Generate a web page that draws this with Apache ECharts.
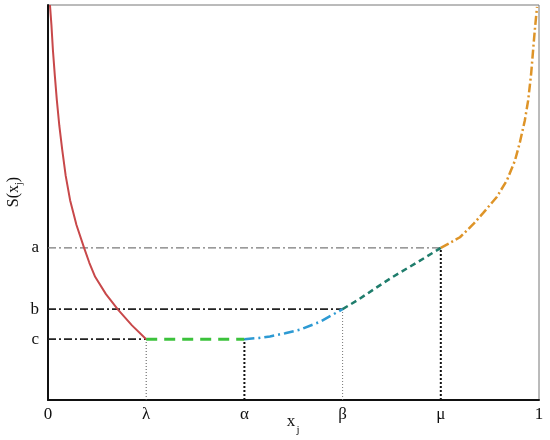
<!DOCTYPE html>
<html>
<head>
<meta charset="utf-8">
<script src="https://cdn.jsdelivr.net/npm/echarts@6/dist/echarts.min.js"></script>
<style>html,body{margin:0;padding:0;background:#fff}#c{width:550px;height:440px}</style>
</head>
<body>
<div id="c"></div>
<script>
// x tick positions and labels
const xTicks = [0, 0.2, 0.4, 0.6, 0.8, 1];
const xTickLabels = ['0', 'λ', 'α', 'β', 'μ', '1'];
// key levels on y
const levelA = 0.385, levelB = 0.23, levelC = 0.154;
const yTicks = [levelC, levelB, levelA];
const yTickLabels = ['c', 'b', 'a'];
// curve segments
const redCurve = [[0.004,1.0],[0.007,0.949],[0.010,0.886],[0.014,0.82],[0.018,0.759],[0.023,0.695],[0.029,0.633],[0.036,0.568],[0.045,0.506],[0.058,0.443],[0.073,0.387],[0.084,0.348],[0.096,0.312],[0.118,0.268],[0.143,0.228],[0.171,0.189],[0.2,0.154]];
const greenFlat = [[0.2,0.154],[0.4,0.154]];
const blueCurve = [[0.4,0.154],[0.43,0.157],[0.452,0.161],[0.483,0.169],[0.513,0.178],[0.554,0.198],[0.6,0.230]];
const tealCurve = [[0.6,0.230],[0.632,0.254],[0.662,0.279],[0.7,0.31],[0.75,0.347],[0.8,0.385]];
const orangeCurve = [[0.8,0.385],[0.839,0.412],[0.866,0.445],[0.886,0.473],[0.914,0.514],[0.935,0.557],[0.951,0.606],[0.961,0.652],[0.971,0.707],[0.978,0.759],[0.984,0.826],[0.988,0.886],[0.992,0.944],[0.996,0.995]];

const chart = echarts.init(document.getElementById('c'));
const font = 'Liberation Serif';
function seg(data, color, width, type) {
  return { type: 'line', data: data, symbol: 'none', smooth: false, z: 3,
    lineStyle: { color: color, width: width, type: type, join: 'round' }, silent: true };
}
function ref(data, color, width, type) {
  return { type: 'line', data: data, symbol: 'none', z: 2,
    lineStyle: { color: color, width: width, type: type }, silent: true };
}
chart.setOption({
  animation: false,
  grid: { left: 48, right: 11, top: 5, bottom: 40, containLabel: false, outerBoundsMode: 'none', show: true, borderColor: '#777', borderWidth: 1 },
  xAxis: {
    type: 'value', min: 0, max: 1, interval: 0.2,
    axisLine: { lineStyle: { color: '#111', width: 2 } },
    axisTick: { show: false }, splitLine: { show: false },
    axisLabel: { fontFamily: font, fontSize: 17, color: '#111', margin: 6,
      formatter: v => { const i = xTicks.findIndex(t => Math.abs(t - v) < 1e-6); return i >= 0 ? xTickLabels[i] : ''; } }
  },
  yAxis: {
    type: 'value', min: 0, max: 1,
    axisLine: { show: true, lineStyle: { color: '#111', width: 2 } },
    axisTick: { show: false }, splitLine: { show: false },
    axisLabel: { customValues: yTicks, fontFamily: font, fontSize: 17, color: '#111', margin: 9,
      formatter: v => { const i = yTicks.findIndex(t => Math.abs(t - v) < 1e-6); return i >= 0 ? yTickLabels[i] : ''; } }
  },
  graphic: [
    { type: 'text', x: 14, y: 192, rotation: Math.PI / 2,
      style: { text: '{n|S(x}{s|j}{n|)}', rich: { n: { fontFamily: font, fontSize: 16, fill: '#111' }, s: { fontFamily: font, fontSize: 10, fill: '#111', padding: [10, 0, 0, 0] } }, align: 'center', verticalAlign: 'middle' } },
    { type: 'text', x: 291, y: 422, style: { text: 'x', fontFamily: font, fontSize: 17, fill: '#111', align: 'center', verticalAlign: 'middle' } },
    { type: 'text', x: 298, y: 430, style: { text: 'j', fontFamily: font, fontSize: 11, fill: '#111', align: 'center', verticalAlign: 'middle' } }
  ],
  series: [
    ref([[0, levelA], [xTicks[4], levelA]], '#7a7a7a', 1.2, [8, 3, 2, 3]),
    ref([[0, levelB], [xTicks[3], levelB]], '#222', 1.6, [8, 3, 2, 3]),
    ref([[0, levelC], [xTicks[1], levelC]], '#222', 1.6, [8, 3, 2, 3]),
    ref([[xTicks[1], 0], [xTicks[1], levelC]], '#555', 1, [1, 2]),
    ref([[xTicks[2], 0], [xTicks[2], levelC]], '#111', 2, [2, 2]),
    ref([[xTicks[3], 0], [xTicks[3], levelB]], '#777', 1, [1, 2]),
    ref([[xTicks[4], 0], [xTicks[4], levelA]], '#111', 2, [2, 2]),
    seg(redCurve, '#c8484a', 2, 'solid'),
    seg(greenFlat, '#3cc23c', 3, [11, 7]),
    seg(blueCurve, '#2d9ad3', 2.5, [10, 4, 2, 4]),
    seg(tealCurve, '#1f7d6c', 2.5, [6, 4]),
    seg(orangeCurve, '#de9428', 2.5, [9, 3, 2, 3])
  ]
});
</script>
</body>
</html>
